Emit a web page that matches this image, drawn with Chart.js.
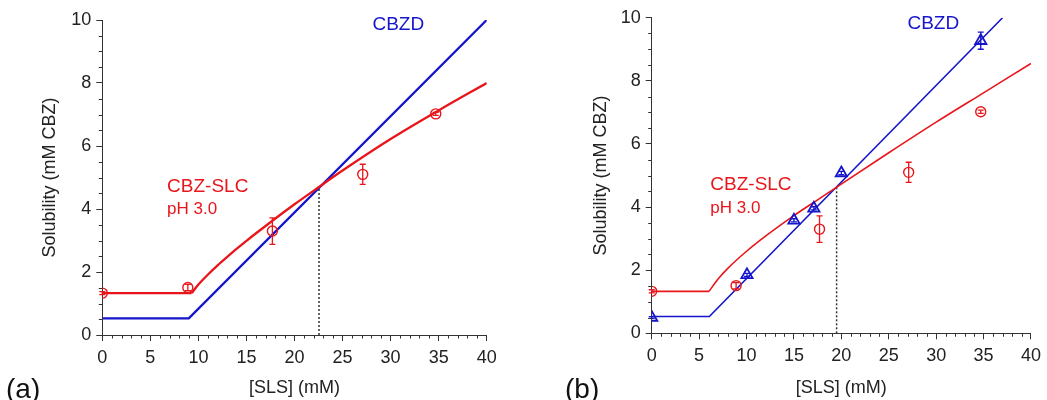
<!DOCTYPE html>
<html>
<head>
<meta charset="utf-8">
<script src="https://cdn.jsdelivr.net/npm/chart.js@4"></script>
<style>
  html, body { margin: 0; padding: 0; background: #fff; }
  body { width: 1047px; height: 400px; position: relative; overflow: hidden; font-family: "Liberation Sans", Arial, sans-serif; }
  .panel { position: absolute; top: 0; }
  .tag { position: absolute; font-size: 28px; color: #111; line-height: 32px; }
</style>
</head>
<body>
<div class="panel" style="left:0"><canvas id="chartA" width="520" height="400"></canvas></div>
<div class="panel" style="left:540px"><canvas id="chartB" width="507" height="400"></canvas></div>
<div class="tag" style="left:6px;top:373px">(a)</div>
<div class="tag" style="left:565px;top:373px">(b)</div>
<script>
// measured CBZ-SLC solubility (same points in both panels)
const slcX = [0, 8.9, 17.7, 27.1, 34.7];
const slcY = [1.33, 1.51, 3.3, 5.1, 7.02];
const slcErr = [0.05, 0.1, 0.42, 0.32, 0.05];

// measured CBZD solubility (panel b only)
const cbzdX = [0, 10.05, 15.0, 17.1, 20.0, 34.7];
const cbzdY = [0.5, 1.85, 3.58, 3.96, 5.08, 9.27];
const cbzdErr = [0.03, 0.05, 0.05, 0.05, 0.05, 0.27];

// panel (a) model curves
const aSlcFlatX = [0, 9.3];
const aSlcFlatY = [1.33, 1.33];
const aSlcX = [9.3, 10, 11, 12, 13, 14, 15, 16, 17.5, 20, 22.5, 25, 30, 35, 40];
const aSlcY = [1.33, 1.6, 1.92, 2.21, 2.48, 2.74, 2.99, 3.23, 3.58, 4.15, 4.69, 5.22, 6.22, 7.13, 8.0];
const aCbzdX = [0, 9.0, 40];
const aCbzdY = [0.53, 0.53, 10];
const aCrossX = [22.55, 22.55];
const aCrossY = [0, 4.68];

// panel (b) model curves
const bSlcFlatX = [0, 6.05];
const bSlcFlatY = [1.33, 1.33];
const bSlcX = [6.05, 7, 8, 10, 12, 15, 17.5, 19.6, 25, 30, 35, 40];
const bSlcY = [1.33, 1.72, 2.05, 2.6, 3.08, 3.73, 4.23, 4.65, 5.72, 6.69, 7.62, 8.55];
const bCbzdX = [0, 6.08, 37.0];
const bCbzdY = [0.53, 0.53, 10];
const bCrossX = [19.5, 19.5];
const bCrossY = [0, 4.65];

const RED = "#e8161b";
const BLUE = "#1515cc";
const AXIS = "#333";
const FONT = '"Liberation Sans", Arial, sans-serif';

const pts = (xs, ys) => xs.map((x, i) => ({ x, y: ys[i] }));

// minor ticks: every 1 on x, every 0.5 on y
const minorTicks = {
  id: "minorTicks",
  afterDraw(chart) {
    const { ctx, scales: { x, y } } = chart;
    ctx.save();
    ctx.strokeStyle = AXIS;
    ctx.lineWidth = 1;
    ctx.beginPath();
    for (let v = x.min; v <= x.max; v += 1) {
      if (v % 5 === 0) continue;
      const px = Math.round(x.getPixelForValue(v)) + 0.5;
      ctx.moveTo(px, y.bottom);
      ctx.lineTo(px, y.bottom + 3.5);
    }
    for (let v = y.min; v <= y.max; v += 0.5) {
      if (v % 2 === 0) continue;
      const py = Math.round(y.getPixelForValue(v)) + 0.5;
      ctx.moveTo(x.left, py);
      ctx.lineTo(x.left - 3.5, py);
    }
    ctx.stroke();
    ctx.restore();
  }
};

// vertical error bars for datasets that carry an `errors` array
const errorBars = {
  id: "errorBars",
  afterDatasetsDraw(chart) {
    const { ctx, scales: { x, y } } = chart;
    chart.data.datasets.forEach(ds => {
      if (!ds.errors) return;
      ctx.save();
      ctx.strokeStyle = ds.borderColor;
      ctx.lineWidth = 1.3;
      ds.data.forEach((p, i) => {
        const px = x.getPixelForValue(p.x);
        const top = y.getPixelForValue(p.y + ds.errors[i]);
        const bot = y.getPixelForValue(p.y - ds.errors[i]);
        ctx.beginPath();
        ctx.moveTo(px, top); ctx.lineTo(px, bot);
        ctx.moveTo(px - 3, top); ctx.lineTo(px + 3, top);
        ctx.moveTo(px - 3, bot); ctx.lineTo(px + 3, bot);
        ctx.stroke();
      });
      ctx.restore();
    });
  }
};

// text labels placed in data coordinates
const notes = {
  id: "notes",
  afterDraw(chart, args, opts) {
    const { ctx, scales: { x, y } } = chart;
    (opts.items || []).forEach(n => {
      ctx.save();
      ctx.font = n.size + "px " + FONT;
      ctx.fillStyle = n.color;
      ctx.textAlign = n.align || "left";
      ctx.textBaseline = "middle";
      ctx.fillText(n.text, x.getPixelForValue(n.x), y.getPixelForValue(n.y));
      ctx.restore();
    });
  }
};

function makeChart(id, o) {
  return new Chart(document.getElementById(id), {
    type: "scatter",
    data: { datasets: o.datasets },
    options: {
      responsive: false,
      animation: false,
      devicePixelRatio: 1,
      layout: { padding: { top: o.top, right: o.right, bottom: 0, left: 0 } },
      plugins: { legend: { display: false }, tooltip: { enabled: false }, notes: { items: o.notes } },
      scales: {
        x: {
          type: "linear", min: 0, max: 40,
          ticks: { stepSize: 5, color: "#222", font: { family: FONT, size: 18 }, padding: 6, maxRotation: 0 },
          grid: { drawOnChartArea: false, tickLength: 6, color: AXIS },
          border: { color: AXIS, width: 1 },
          title: { display: true, text: "[SLS] (mM)", color: "#222", font: { family: FONT, size: 18 }, padding: { top: 0, bottom: 1 } },
          afterFit: s => { s.height = o.xH; }
        },
        y: {
          type: "linear", min: 0, max: 10,
          ticks: { stepSize: 2, color: "#222", font: { family: FONT, size: 18 }, padding: 5 },
          grid: { drawOnChartArea: false, tickLength: 6, color: AXIS },
          border: { color: AXIS, width: 1 },
          title: { display: true, text: "Solubility (mM CBZ)", color: "#222", font: { family: FONT, size: 18 }, padding: { top: o.yTitle, bottom: 0 } },
          afterFit: s => { s.width = o.yW; }
        }
      }
    },
    plugins: [minorTicks, errorBars, notes]
  });
}

function curve(xs, ys, color, lw, smooth) {
  return {
    data: pts(xs, ys), showLine: true, borderColor: color, borderWidth: lw,
    pointRadius: 0, fill: false, tension: 0,
    cubicInterpolationMode: smooth ? "monotone" : "default"
  };
}

function markers(xs, ys, errs, color, style, r, bw) {
  return {
    data: pts(xs, ys), showLine: false, borderColor: color, backgroundColor: "rgba(0,0,0,0)",
    pointStyle: style, pointRadius: r, pointBorderWidth: bw, errors: errs
  };
}

function dotted(xs, ys) {
  return {
    data: pts(xs, ys), showLine: true, borderColor: AXIS, borderWidth: 1.5,
    borderDash: [2, 2], pointRadius: 0, fill: false
  };
}

makeChart("chartA", {
  top: 20, right: 33.3, xH: 65, yW: 102.3, yTitle: 39,
  datasets: [
    markers(slcX, slcY, slcErr, RED, "circle", 5, 1.4),
    curve(aSlcFlatX, aSlcFlatY, RED, 2.3, false),
    curve(aSlcX, aSlcY, RED, 2.3, true),
    curve(aCbzdX, aCbzdY, BLUE, 2.3, false),
    dotted(aCrossX, aCrossY)
  ],
  notes: [
    { text: "CBZD", x: 30.8, y: 9.84, color: BLUE, size: 19, align: "center" },
    { text: "CBZ-SLC", x: 6.74, y: 4.72, color: RED, size: 19 },
    { text: "pH 3.0", x: 6.74, y: 4.0, color: RED, size: 17 }
  ]
});

makeChart("chartB", {
  top: 17.7, right: 11.3, xH: 66.7, yW: 111.7, yTitle: 50,
  datasets: [
    markers(cbzdX, cbzdY, cbzdErr, BLUE, "triangle", 6.5, 1.8),
    markers(slcX, slcY, slcErr, RED, "circle", 5, 1.4),
    curve(bSlcFlatX, bSlcFlatY, RED, 1.6, false),
    curve(bSlcX, bSlcY, RED, 1.6, true),
    curve(bCbzdX, bCbzdY, BLUE, 1.6, false),
    dotted(bCrossX, bCrossY)
  ],
  notes: [
    { text: "CBZD", x: 29.7, y: 9.8, color: BLUE, size: 19, align: "center" },
    { text: "CBZ-SLC", x: 6.18, y: 4.72, color: RED, size: 19 },
    { text: "pH 3.0", x: 6.18, y: 3.97, color: RED, size: 17 }
  ]
});
</script>
</body>
</html>
